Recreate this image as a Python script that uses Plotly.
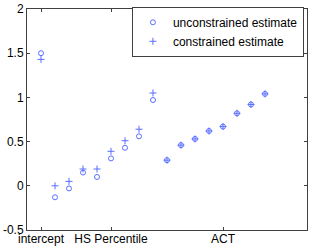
import plotly.graph_objects as go

positions = list(range(1, 18))
unconstrained = [1.50,
                 -0.13, -0.03, 0.15, 0.10, 0.31, 0.43, 0.56, 0.97,
                 0.29, 0.46, 0.53, 0.62, 0.67, 0.82, 0.92, 1.04]
constrained = [1.43,
               0.00, 0.05, 0.19, 0.19, 0.39, 0.51, 0.64, 1.05,
               0.29, 0.46, 0.53, 0.62, 0.67, 0.82, 0.92, 1.04]
tick_pos = [1, 6, 14]
tick_labels = ["intercept", "HS Percentile", "ACT"]
y_ticks = [-0.5, 0, 0.5, 1, 1.5, 2]
y_labels = ["-0.5", "0", "0.5", "1", "1.5", "2"]

blue = "rgb(90,110,255)"
fig = go.Figure()
fig.add_trace(go.Scatter(x=positions, y=unconstrained, mode="markers",
                         name="unconstrained estimate",
                         marker=dict(symbol="circle-open", size=5, color=blue, line=dict(width=1))))
fig.add_trace(go.Scatter(x=positions, y=constrained, mode="markers",
                         name="constrained estimate",
                         marker=dict(symbol="cross-thin-open", size=5, color=blue, line=dict(width=1, color=blue))))

axis_common = dict(showgrid=False, zeroline=False, showline=True, linecolor="#404040",
                   linewidth=1, mirror="ticks", ticks="inside", ticklen=3, tickcolor="#404040",
                   automargin=False,
                   tickfont=dict(family="Liberation Sans, Arial", size=12, color="black"))
fig.update_xaxes(range=[0, 20], tickmode="array", tickvals=tick_pos, ticktext=tick_labels,
                 ticklabelstandoff=-2, **axis_common)
fig.update_yaxes(range=[-0.5, 2], tickmode="array", tickvals=y_ticks, ticktext=y_labels, **axis_common)

fig.update_layout(width=312, height=247, margin=dict(l=27, r=5, t=9, b=17, autoexpand=False),
                  plot_bgcolor="white", paper_bgcolor="white",
                  font=dict(family="Liberation Sans, Arial", size=12, color="black"),
                  legend=dict(x=0.989, xanchor="right", y=1.01, yanchor="top",
                              bordercolor="#404040", borderwidth=1, bgcolor="white",
                              font=dict(size=12), tracegroupgap=0, itemwidth=30))
fig.write_html("out.html", config={"displayModeBar": False},
               post_script="document.body.style.margin='0';document.body.style.overflow='hidden';")
